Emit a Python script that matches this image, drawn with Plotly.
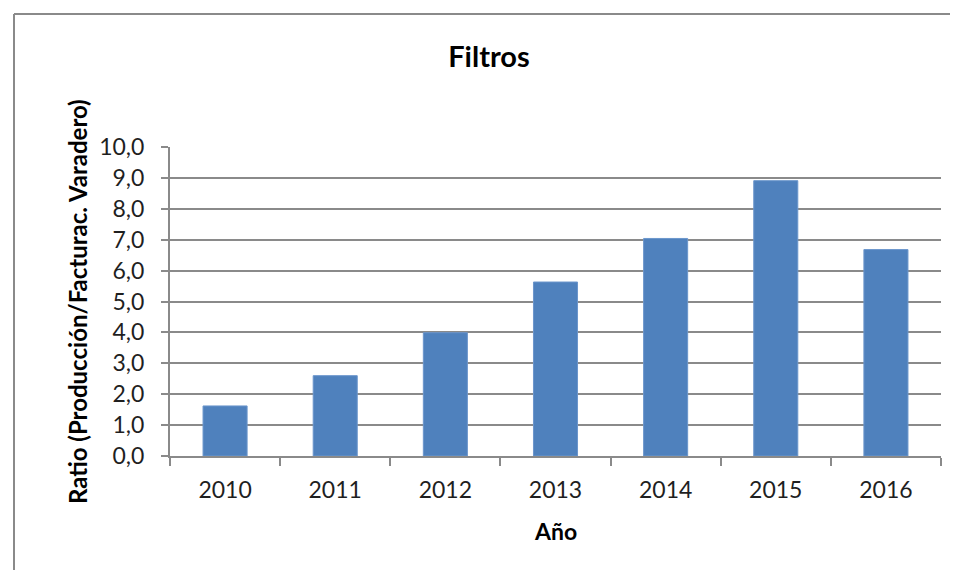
import plotly.graph_objects as go

years = ["2010", "2011", "2012", "2013", "2014", "2015", "2016"]
ratios = [1.62, 2.60, 3.99, 5.63, 7.04, 8.91, 6.68]
y_ticks = [0, 1, 2, 3, 4, 5, 6, 7, 8, 9, 10]
y_tick_labels = ["0,0", "1,0", "2,0", "3,0", "4,0", "5,0", "6,0", "7,0", "8,0", "9,0", "10,0"]

OFF = 8  # page body margin
W, H = 950, 562
# plot area in page pixel coords
PX0, PX1, PY0, PY1 = 170, 941, 147, 456
L = PX0 - OFF
R = W - (PX1 - OFF)
T = PY0 - OFF
B = H - (PY1 - OFF)
pw = PX1 - PX0
ph = PY1 - PY0

def px_x(x):
    return (x - PX0) / pw

def px_y(y):
    return (PY1 - y) / ph

FONT = "Lato"
GRID = "#8a8a8a"
TXT = "#1f1f1f"

fig = go.Figure(go.Bar(
    x=years, y=ratios,
    marker=dict(color="#4F81BD", line=dict(color="#6b96cc", width=1)),
    width=0.4,
))

fig.update_layout(
    width=W, height=H,
    margin=dict(l=L, r=R, t=T, b=B),
    paper_bgcolor="white", plot_bgcolor="white",
    showlegend=False,
    font=dict(family=FONT, color=TXT),
    title=dict(text="<b>Filtros</b>", x=(489 - OFF) / W, xref="container", xanchor="center",
               y=1 - (57 - OFF) / H, yref="container", yanchor="middle",
               font=dict(size=29, family=FONT, color="black")),
    xaxis=dict(
        type="category", showgrid=False, showline=True, linecolor=GRID, linewidth=2,
        ticks="outside", tickson="boundaries", ticklen=8, tickcolor=GRID, tickwidth=2,
        tickfont=dict(size=23, family=FONT, color=TXT),
        ticklabelstandoff=12,
    ),
    yaxis=dict(
        range=[0, 10], tickvals=y_ticks, ticktext=y_tick_labels,
        showgrid=True, gridcolor=GRID, gridwidth=2,
        showline=True, linecolor=GRID, linewidth=2,
        ticks="outside", ticklen=7, tickcolor=GRID, tickwidth=2,
        tickfont=dict(size=23, family=FONT, color=TXT),
        ticklabelstandoff=12, zeroline=False,
    ),
    annotations=[
        dict(text="<b>Ratio (Producción/Facturac. Varadero)</b>", textangle=-90,
             x=px_x(77), y=px_y(302), xref="paper", yref="paper", showarrow=False,
             xanchor="center", yanchor="middle",
             font=dict(size=24, family=FONT, color="black")),
        dict(text="<b>Año</b>", x=px_x(555), y=px_y(531), xref="paper", yref="paper",
             showarrow=False, xanchor="center", yanchor="middle",
             font=dict(size=23, family=FONT, color="black")),
    ],
    shapes=[
        dict(type="line", xref="paper", yref="paper",
             x0=px_x(14), x1=px_x(958), y0=px_y(14), y1=px_y(14),
             line=dict(color="#8a8a8a", width=2), layer="below"),
        dict(type="line", xref="paper", yref="paper",
             x0=px_x(14), x1=px_x(14), y0=px_y(14), y1=px_y(578),
             line=dict(color="#8a8a8a", width=2), layer="below"),
    ],
)

fig.write_html("out.html")
